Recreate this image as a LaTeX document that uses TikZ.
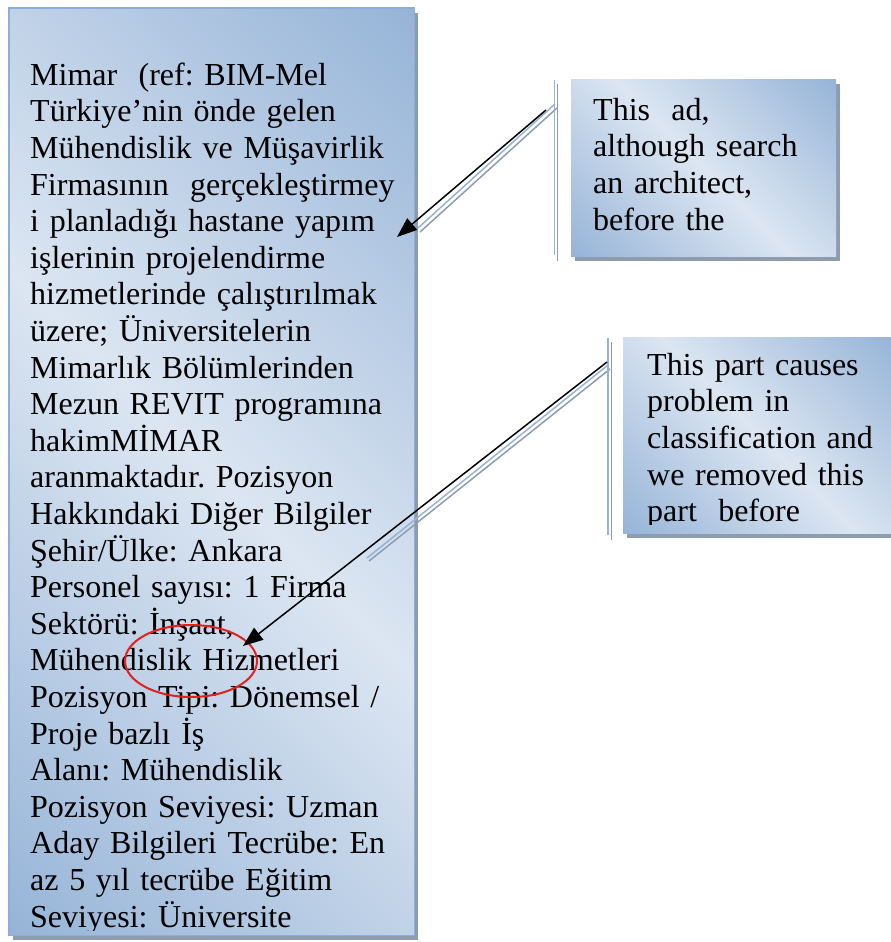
\documentclass[tikz,border=0pt]{standalone}
\usepackage{fontspec}
\setmainfont{Liberation Serif}
\usetikzlibrary{arrows.meta,shapes.geometric,shadows}

\definecolor{fillDark}{HTML}{95B3D7}
\definecolor{fillLight}{HTML}{DCE6F2}
\definecolor{boxEdge}{HTML}{8EAEDA}
\definecolor{dropGrey}{HTML}{8E9CB0}
\definecolor{ringRed}{HTML}{E3201E}

% diagonal band: dark corners, light stripe through the middle
\pgfdeclarehorizontalshading{bandshade}{100bp}{color(0bp)=(fillDark); color(14bp)=(fillDark); color(50bp)=(fillLight); color(86bp)=(fillDark); color(100bp)=(fillDark)}

\tikzset{
  panel/.style={shade, shading=bandshade, shading angle=45, inner sep=0,
    anchor=north west,
    drop shadow={shadow xshift=4bp, shadow yshift=-5bp, fill=dropGrey, opacity=1}},
  bodytext/.style={inner sep=0, anchor=north west, align=left, text width=#1,
    font=\fontsize{32bp}{36.6bp}\selectfont\frenchspacing},
  accentbar/.style={draw=fillDark, line width=1.5bp},
  barshadow/.style={draw=dropGrey, line width=1.5bp},
  pointer/.style={draw=black, line width=1.5bp, -{Triangle[length=20bp,width=15bp]}},
  ring/.style={ellipse, draw=ringRed, line width=2bp, inner sep=0}
}

\begin{document}
\begin{tikzpicture}[x=1bp,y=-1bp]
\useasboundingbox (0,0) rectangle (891,942);
\clip (0,0) rectangle (891,942);

% ---- main advertisement panel ----
\node[panel, minimum width=405bp, minimum height=927bp] (adbox) at (9,8) {};
\draw[boxEdge, line width=1.5bp] (adbox.north west) rectangle (adbox.south east);
\begin{scope}
  \clip (9,8) rectangle (414,930);
  \node[bodytext=400bp] (adtext) at (30,59.4) {\strut Mimar\ \ (ref: BIM-Mel\\
Türkiye’nin önde gelen\\
Mühendislik ve Müşavirlik\\
Firmasının\ \ gerçekleştirmey\\
i planladığı hastane yapım\\
işlerinin projelendirme\\
hizmetlerinde çalıştırılmak\\
üzere; Üniversitelerin\\
Mimarlık Bölümlerinden\\
Mezun REVIT programına\\
hakimMİMAR\\
aranmaktadır. Pozisyon\\
Hakkındaki Diğer Bilgiler\\
Şehir/Ülke: Ankara\\
Personel sayısı: 1 Firma\\
Sektörü: İnşaat,\\
Mühendislik Hizmetleri\\
Pozisyon Tipi: Dönemsel /\\
Proje bazlı İş\\
Alanı: Mühendislik\\
Pozisyon Seviyesi: Uzman\\
Aday Bilgileri Tecrübe: En\\
az 5 yıl tecrübe Eğitim\\
Seviyesi: Üniversite};
\end{scope}

% ---- first remark ----
\node[panel, minimum width=265bp, minimum height=177bp] (noteA) at (571,79) {};
\begin{scope}
  \clip (571,79) rectangle (836,248);
  \node[bodytext=250bp] (noteAtext) at (593,94.5) {\strut This\ \ ad,\\
although search\\
an architect,\\
before the};
\end{scope}

% ---- second remark ----
\node[panel, minimum width=272bp, minimum height=196bp] (noteB) at (623,337) {};
\begin{scope}
  \clip (623,337) rectangle (895,524);
  \node[bodytext=250bp] (noteBtext) at (647,349.4) {\strut This part causes\\
problem in\\
classification and\\
we removed this\\
part\ \ before};
\end{scope}

% ---- callout bars and leaders ----
\coordinate (barAtop) at (554.5,80);   \coordinate (barAbot) at (554.5,255);
\coordinate (barAtopS) at (557.5,84);  \coordinate (barAbotS) at (557.5,261);
\coordinate (legA) at (555,104);       \coordinate (legAend) at (418,228);
\coordinate (legAS) at (557,108);      \coordinate (legAendS) at (420,232);
\draw[barshadow] (barAtopS) -- (barAbotS);
\draw[barshadow] (legAS) -- (legAendS);
\draw[accentbar] (barAtop) -- (barAbot);
\draw[accentbar] (legA) -- (legAend);

\coordinate (barBtop) at (608,338);    \coordinate (barBbot) at (608,535);
\coordinate (barBtopS) at (611.5,342); \coordinate (barBbotS) at (611.5,540);
\coordinate (legB) at (608,365);       \coordinate (legBend) at (367,558);
\coordinate (legBS) at (610,369);      \coordinate (legBendS) at (369,561);
\draw[barshadow] (barBtopS) -- (barBbotS);
\draw[barshadow] (legBS) -- (legBendS);
\draw[accentbar] (barBtop) -- (barBbot);
\draw[accentbar] (legB) -- (legBend);

% ---- highlighted words ----
\node[ring, minimum width=132bp, minimum height=72bp] (mark) at (191,661) {};

% ---- arrows ----
\coordinate (tailA) at (546,110);  \coordinate (tipA) at (397,237);
\coordinate (tailB) at (607,362);  \coordinate (tipB) at (243,646);
\draw[pointer] (tailA) -- (tipA);
\draw[pointer] (tailB) -- (tipB);
\end{tikzpicture}
\end{document}
